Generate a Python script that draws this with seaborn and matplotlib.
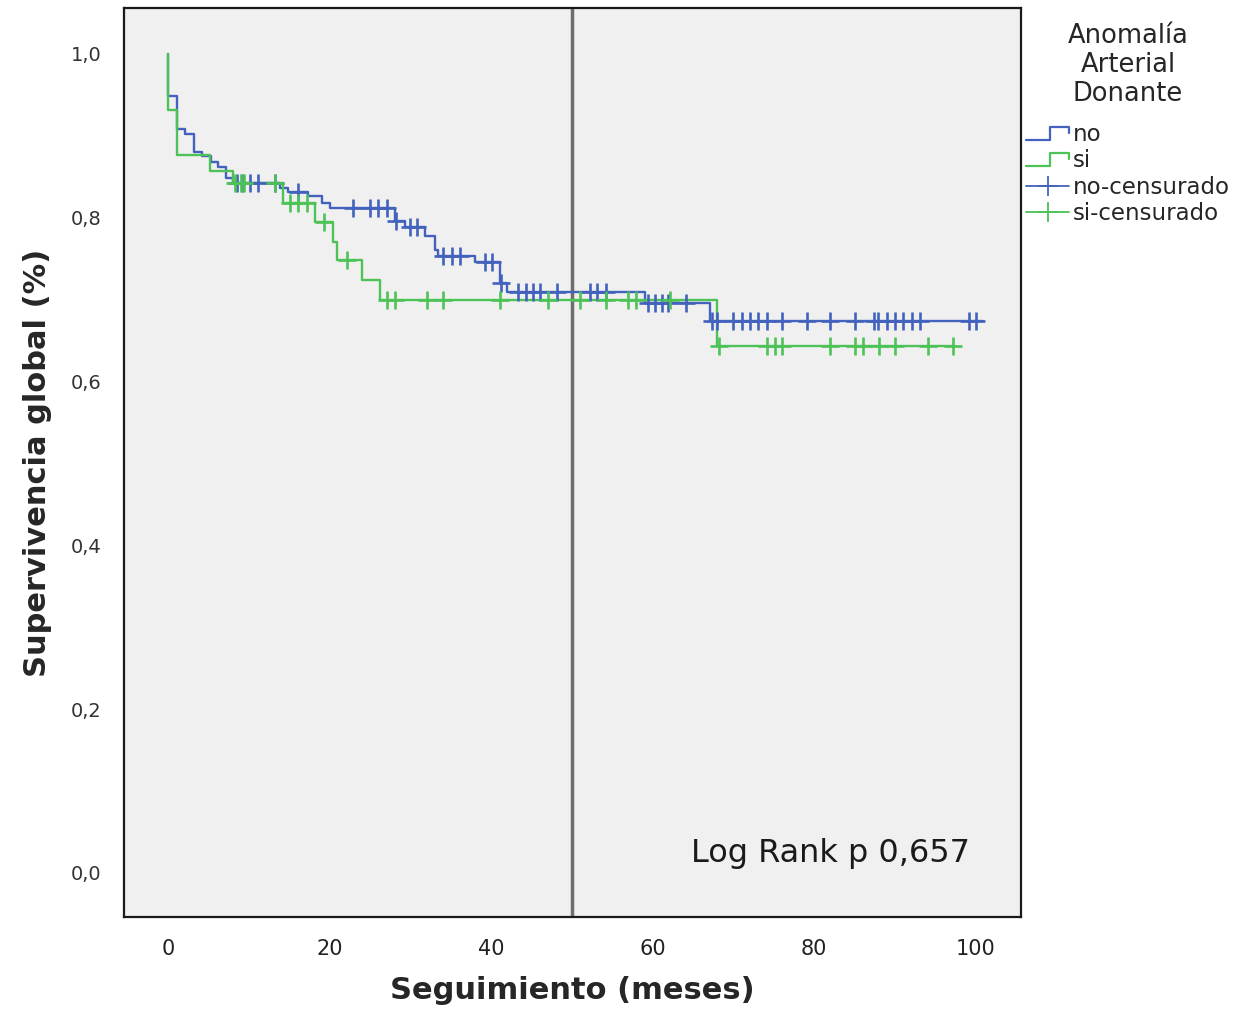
import pandas as pd
import numpy as np
import seaborn as sns
import matplotlib.pyplot as plt
from matplotlib.legend_handler import HandlerBase
from matplotlib.lines import Line2D

# Kaplan-Meier steps (time in months, survival after the event)
no_event_t = [0, 1.1, 2.1, 3.2, 4.2, 5.3, 6.2, 7.2, 8.1, 13.9, 14.9, 17.4, 19.1, 20.1,
              28.1, 29.4, 31.8, 33.1, 33.4, 38.0, 41.1, 42.0, 59.1, 67.2]
no_event_s = [0.949, 0.908, 0.902, 0.880, 0.875, 0.868, 0.862, 0.849, 0.842, 0.836, 0.832,
              0.826, 0.818, 0.812, 0.796, 0.789, 0.778, 0.761, 0.753, 0.746, 0.720, 0.709,
              0.696, 0.674]
no_end = 100.9
no_cens_t = [8.5, 9.2, 10.2, 11.2, 13.3, 16.1, 22.9, 25.0, 26.0, 27.1, 28.3, 30.0, 30.9,
             34.1, 35.2, 36.2, 39.3, 40.1, 41.3, 43.4, 44.4, 45.2, 46.1, 48.2, 52.3, 53.2,
             54.2, 59.5, 60.3, 61.2, 62.0, 64.2, 67.4, 68.0, 70.0, 71.1, 72.1, 73.1, 74.2,
             76.1, 79.2, 82.0, 85.1, 87.4, 88.0, 89.1, 90.1, 91.1, 92.2, 93.1, 99.2, 100.1]

si_event_t = [0, 1.1, 5.2, 8.1, 14.3, 18.2, 20.4, 21.0, 24.0, 26.3, 68.0]
si_event_s = [0.932, 0.877, 0.857, 0.842, 0.818, 0.795, 0.770, 0.748, 0.724, 0.700, 0.643]
si_end = 97.5
si_cens_t = [8.3, 9.0, 9.4, 13.3, 15.1, 16.1, 17.2, 19.3, 22.2, 27.1, 28.1, 32.1, 34.1,
             41.1, 47.1, 51.1, 54.2, 57.0, 58.0, 62.2, 68.2, 74.2, 75.2, 76.1, 82.0, 85.1,
             86.1, 88.1, 90.1, 94.1, 97.3]

colors = {'no': '#4262bd', 'si': '#4cc257'}


def step_frame(name, ev_t, ev_s, end):
    t = [0.0] + list(ev_t) + [end]
    s = [1.0] + list(ev_s) + [ev_s[-1]]
    return pd.DataFrame({'t': t, 's': s, 'grupo': name})


def cens_frame(name, ev_t, ev_s, cens):
    # survival level at each censoring time
    vals = []
    for c in cens:
        idx = np.searchsorted(ev_t, c, side='right') - 1
        vals.append(ev_s[idx])
    return pd.DataFrame({'t': cens, 's': vals, 'grupo': name})


steps = pd.concat([step_frame('no', no_event_t, no_event_s, no_end),
                   step_frame('si', si_event_t, si_event_s, si_end)], ignore_index=True)
cens = pd.concat([cens_frame('no', no_event_t, no_event_s, no_cens_t),
                  cens_frame('si', si_event_t, si_event_s, si_cens_t)], ignore_index=True)

sns.set_style('white')
plt.rcParams['font.family'] = ['DejaVu Sans']

fig = plt.figure(figsize=(12.42, 10.17), dpi=100)
ax = fig.add_axes([0.0998, 0.0983, 0.7225, 0.8937])
ax.set_facecolor('#f0f0f0')

for g in ['no', 'si']:
    sns.lineplot(data=steps[steps.grupo == g], x='t', y='s', color=colors[g],
                 drawstyle='steps-post', estimator=None, sort=False, lw=1.7,
                 legend=False, ax=ax)
    sns.scatterplot(data=cens[cens.grupo == g], x='t', y='s', color=colors[g],
                    marker='+', s=150, linewidth=1.9, legend=False, ax=ax, zorder=3)

ax.axvline(50, color='#6e6e6e', lw=2.5, zorder=1)

ax.set_xlim(-5.45, 105.7)
ax.set_ylim(-0.054, 1.056)
ax.set_xticks([0, 20, 40, 60, 80, 100])
ax.set_yticks([0, 0.2, 0.4, 0.6, 0.8, 1.0])
ax.set_yticklabels(['0,0', '0,2', '0,4', '0,6', '0,8', '1,0'])
ax.tick_params(axis='both', direction='out', length=10, width=1.3, colors='#222222',
               labelsize=15, pad=6)
ax.tick_params(axis='y', labelsize=14, labelcolor='#333333')
for sp in ax.spines.values():
    sp.set_visible(True)
    sp.set_color('#1a1a1a')
    sp.set_linewidth(1.6)

ax.set_xlabel('Seguimiento (meses)', fontsize=22, fontweight='bold', labelpad=12)
ax.set_ylabel('Supervivencia global (%)', fontsize=22, fontweight='bold', labelpad=14)

ax.text(99.4, 0.023, 'Log Rank p 0,657', fontsize=23, ha='right', va='center',
        color='#1a1a1a')


class StepHandler(HandlerBase):
    def create_artists(self, legend, orig_handle, xdescent, ydescent, width, height,
                       fontsize, trans):
        c = orig_handle.get_color()
        x0, x1 = -xdescent, -xdescent + width
        xm = x0 + width * 0.55
        y0, y1 = -ydescent + height * 0.05, -ydescent + height * 0.85
        ln = Line2D([x0, xm, xm, x1, x1], [y0, y0, y1, y1, y1 - height * 0.35],
                    color=c, lw=1.6, transform=trans)
        return [ln]


h_no = Line2D([], [], color=colors['no'])
h_si = Line2D([], [], color=colors['si'])
h_nc = Line2D([], [], color=colors['no'], marker='+', markersize=14, mew=1.3, lw=1.3)
h_sc = Line2D([], [], color=colors['si'], marker='+', markersize=14, mew=1.3, lw=1.3)
leg = fig.legend([h_no, h_si, h_nc, h_sc], ['no', 'si', 'no-censurado', 'si-censurado'],
                 title='Anomalía\nArterial\nDonante', loc='upper left',
                 bbox_to_anchor=(0.826, 0.977), frameon=False, fontsize=16.5,
                 title_fontsize=18.5, handlelength=1.9, handletextpad=0.15,
                 labelspacing=0.15, borderaxespad=0, borderpad=0,
                 handler_map={h_no: StepHandler(), h_si: StepHandler()})
leg.get_title().set_multialignment('center')
leg.get_title().set_linespacing(1.15)
leg._legend_box.sep = 11

fig.savefig('out.png', dpi=100)
